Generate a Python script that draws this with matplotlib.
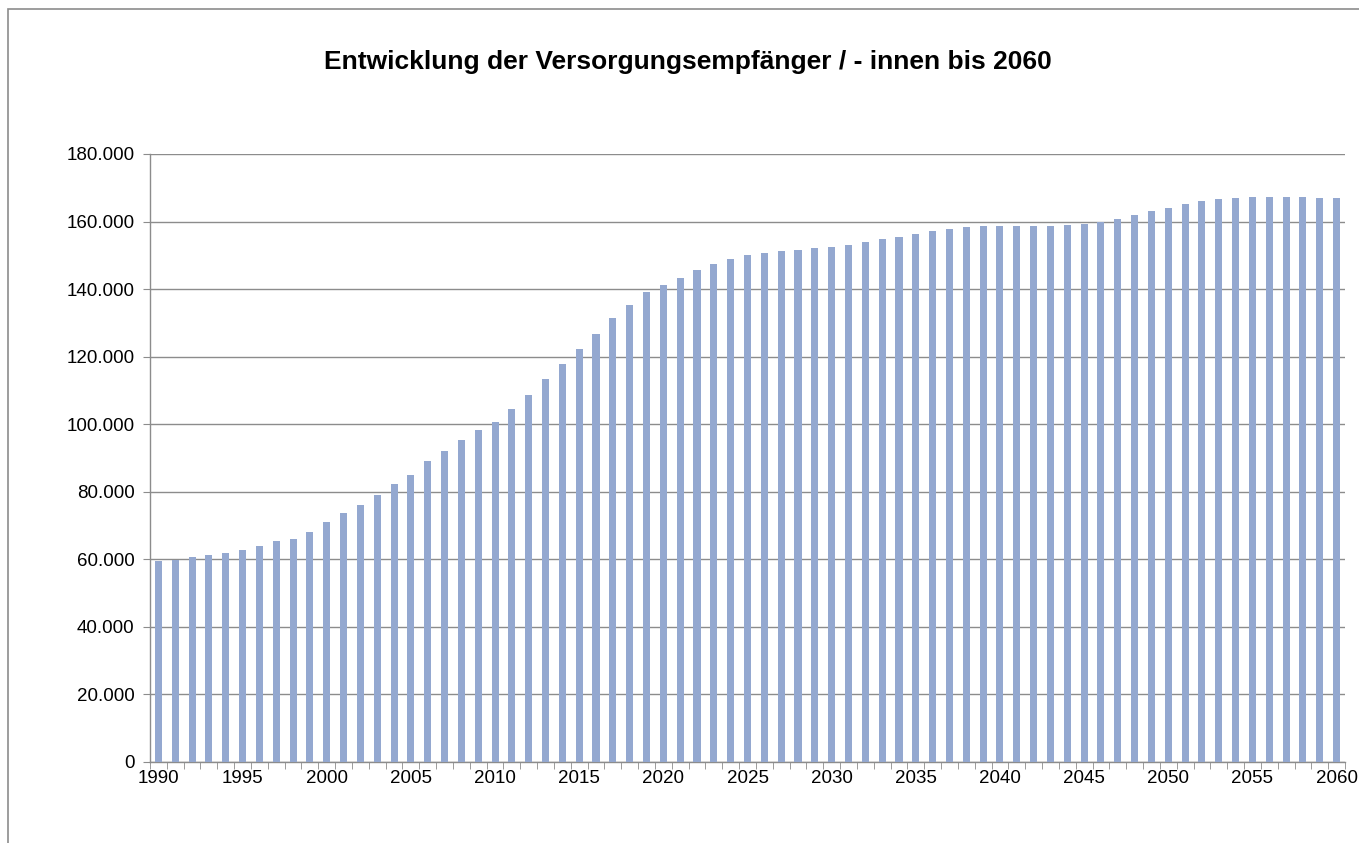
import matplotlib
matplotlib.use('Agg')
from matplotlib import pyplot as plt
from matplotlib.patches import Rectangle
from matplotlib.ticker import FuncFormatter, MultipleLocator

# Versorgungsempfaenger per year
years = list(range(1990, 2061))
values = [
    59400, 59900, 60600, 61200, 62000, 62800, 63900, 65500, 66000, 68000,
    71000, 73700, 76100, 78900, 82400, 85100, 89000, 92000, 95200, 98200,
    100800, 104500, 108600, 113400, 117900, 122400, 126800, 131300, 135400, 139100,
    141100, 143400, 145600, 147500, 148900, 150000, 150700, 151300, 151500, 152100,
    152600, 153100, 154000, 154700, 155500, 156300, 157100, 157900, 158500, 158700,
    158700, 158700, 158700, 158700, 159000, 159300, 160000, 160900, 162000, 163000,
    164100, 165300, 166000, 166600, 167100, 167400, 167400, 167400, 167400, 167100,
    167100,
]
label_years = list(range(1990, 2061, 5))

title = "Entwicklung der Versorgungsempfänger / - innen bis 2060"

plt.rcParams['font.family'] = ['Liberation Sans', 'DejaVu Sans']

W, H = 1359, 843
fig = plt.figure(figsize=(W / 100, H / 100), dpi=100)
ax = fig.add_axes([150 / W, 1 - 762 / H, (1345 - 150) / W, (762 - 154) / H])

# chart border (only left and top visible in the reference)
fig.patches.append(Rectangle((8 / W, -0.1), 1.2, 1 - 9 / H + 0.1,
                             transform=fig.transFigure, fill=False,
                             edgecolor='#8c8c8c', linewidth=1.2))

pos = list(range(len(years)))
ax.bar(pos, values, width=0.42, color='#94a8d0', zorder=3)

ax.set_xlim(-0.5, len(years) - 0.5)
ax.set_ylim(0, 180000)
ax.yaxis.set_major_locator(MultipleLocator(20000))
ax.yaxis.set_major_formatter(FuncFormatter(lambda v, p: f"{int(v):,}".replace(',', '.')))
ax.grid(axis='y', color='#8c8c8c', linewidth=1.0, zorder=0)

# labels every 5 years at bar centres, tick marks at category boundaries
ax.set_xticks([years.index(y) for y in label_years])
ax.set_xticklabels([str(y) for y in label_years])
ax.set_xticks([i - 0.5 for i in range(len(years) + 1)], minor=True)
ax.tick_params(axis='x', which='major', length=0, pad=6, labelsize=13.5)
ax.tick_params(axis='x', which='minor', length=5, color='#8c8c8c')
ax.tick_params(axis='y', length=5, color='#8c8c8c', labelsize=13.5, pad=6)

for s in ['top', 'right']:
    ax.spines[s].set_visible(False)
for s in ['left', 'bottom']:
    ax.spines[s].set_color('#8c8c8c')
    ax.spines[s].set_linewidth(1.0)

fig.text(688 / W, 1 - 62 / H, title, ha='center', va='center',
         fontsize=19, fontweight='bold')

fig.savefig('out.png', dpi=100)
